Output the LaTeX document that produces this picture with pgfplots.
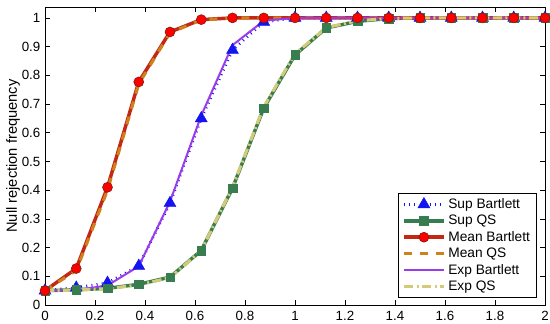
\documentclass[border=0pt]{standalone}
\usepackage{pgfplots}
\pgfplotsset{compat=1.18}
\usepackage{fontspec}
\setmainfont{Liberation Sans}
\definecolor{supb}{RGB}{20,20,240}
\definecolor{supqs}{RGB}{55,125,80}
\definecolor{meanb}{RGB}{195,40,20}
\definecolor{meanqs}{RGB}{205,130,30}
\definecolor{expb}{RGB}{155,60,235}
\definecolor{expqs}{RGB}{212,202,120}
\begin{document}
\begin{tikzpicture}[x=1pt,y=1pt]
\begin{axis}[
  at={(0pt,0pt)}, anchor=south west,
  scale only axis,
  width=375pt, height=223.5pt,
  xmin=0, xmax=2, ymin=0, ymax=1.038,
  xtick={0,0.2,...,2.01},
  ytick={0,0.1,...,1.01},
  tick align=inside,
  major tick length=4pt,
  tick style={black, line width=0.5pt},
  axis line style={line width=0.6pt},
  /pgf/number format/assume math mode=true,
  ticklabel style={font=\fontsize{10}{12}\selectfont},
  yticklabel style={/pgf/number format/fixed},
  xticklabel style={/pgf/number format/fixed, yshift=-1pt},
  ylabel={Null rejection frequency},
  ylabel style={font=\fontsize{11}{13}\selectfont, at={(axis description cs:-0.064,0.5)}, anchor=center},
  legend style={at={(0.984,0.0235)}, anchor=south east, font=\fontsize{10.3}{12}\selectfont,
    draw=black, line width=0.5pt, inner xsep=3pt, inner ysep=2pt, row sep=-0.5pt, cells={anchor=west}},
  legend image code/.code={\draw[#1] (0pt,0pt) -- (30pt,0pt); \draw[#1, solid] plot coordinates {(15pt,0pt)};},
]
\addplot[supb, line width=2.2pt, dash pattern=on 0.7pt off 3.2pt, mark=triangle*, mark size=5.2pt, mark options={solid, fill=supb, draw=supb, line width=0.3pt}] coordinates {
(0,0.05) (0.125,0.06) (0.25,0.077) (0.375,0.136) (0.5,0.355) (0.625,0.65) (0.75,0.888) (0.875,0.986) (1,1) (1.125,1) (1.25,1) (1.375,1) (1.5,1) (1.625,1) (1.75,1) (1.875,1) (2,1)};
\addlegendentry{Sup Bartlett}
\addplot[supqs, line width=2.6pt, mark=square*, mark size=3.2pt, mark options={solid, fill=supqs, line width=0.3pt}] coordinates {
(0,0.05) (0.125,0.053) (0.25,0.058) (0.375,0.072) (0.5,0.097) (0.625,0.19) (0.75,0.407) (0.875,0.686) (1,0.871) (1.125,0.965) (1.25,0.988) (1.375,0.998) (1.5,1) (1.625,1) (1.75,1) (1.875,1) (2,1)};
\addlegendentry{Sup QS}
\addplot[meanb, line width=2.6pt, mark=*, mark size=3.7pt, mark options={solid, fill=red, draw=meanb!70!black, line width=0.5pt}] coordinates {
(0,0.05) (0.125,0.127) (0.25,0.41) (0.375,0.777) (0.5,0.951) (0.625,0.994) (0.75,1) (0.875,1) (1,1) (1.125,1) (1.25,1) (1.375,1) (1.5,1) (1.625,1) (1.75,1) (1.875,1) (2,1)};
\addlegendentry{Mean Bartlett}
\addplot[meanqs, line width=2.3pt, dash pattern=on 6pt off 6pt] coordinates {
(0,0.05) (0.125,0.12) (0.25,0.40) (0.375,0.77) (0.5,0.948) (0.625,0.993) (0.75,1) (0.875,1) (1,1) (1.125,1) (1.25,1) (1.375,1) (1.5,1) (1.625,1) (1.75,1) (1.875,1) (2,1)};
\addlegendentry{Mean QS}
\addplot[expb, line width=1.5pt] coordinates {
(0,0.05) (0.125,0.052) (0.25,0.068) (0.375,0.135) (0.5,0.36) (0.625,0.66) (0.75,0.905) (0.875,0.99) (1,1) (1.125,1) (1.25,1) (1.375,1) (1.5,1) (1.625,1) (1.75,1) (1.875,1) (2,1)};
\addlegendentry{Exp Bartlett}
\addplot[expqs, line width=2.3pt, dash pattern=on 7pt off 2.5pt on 1.5pt off 2.5pt] coordinates {
(0,0.05) (0.125,0.052) (0.25,0.057) (0.375,0.07) (0.5,0.095) (0.625,0.19) (0.75,0.41) (0.875,0.69) (1,0.875) (1.125,0.966) (1.25,0.99) (1.375,0.998) (1.5,1) (1.625,1) (1.75,1) (1.875,1) (2,1)};
\addlegendentry{Exp QS}
\end{axis}
\pgfresetboundingbox
\path[use as bounding box] (-33.75pt,-14.25pt) rectangle (378.75pt,228.75pt);
\end{tikzpicture}
\end{document}
